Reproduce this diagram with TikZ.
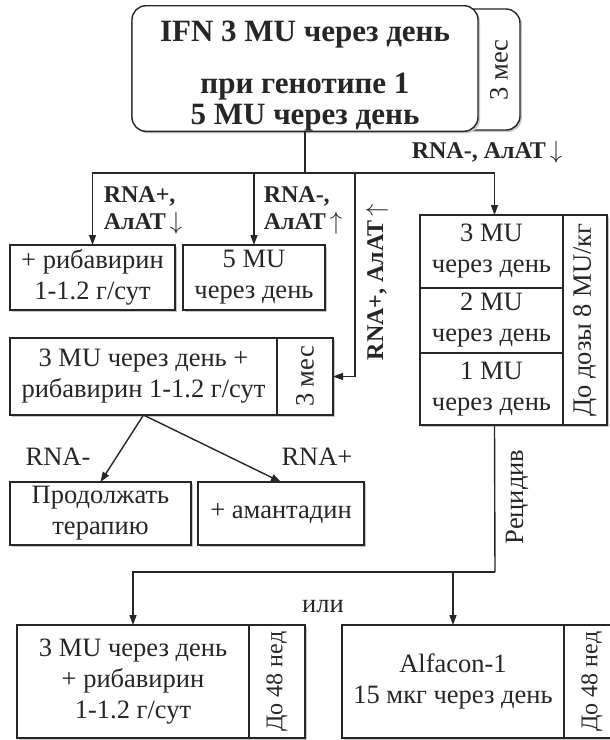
\documentclass[tikz,border=0pt]{standalone}
\usepackage{fontspec}
\setmainfont{Liberation Serif}
\usetikzlibrary{positioning}
\usetikzlibrary{arrows.meta,shadows}

\begin{document}
\begin{tikzpicture}[x=1pt, y=-1pt, line width=1.4pt, color=black!85, font=\fontsize{26.5}{31}\selectfont,
    box/.style={draw, fill=white, inner sep=0pt, outer sep=0pt, align=center,
        general shadow={fill=black!22, shadow xshift=2pt, shadow yshift=-2pt}},
    lbl/.style={font=\bfseries\fontsize{24}{27}\selectfont, align=left},
    arr/.style={-{Triangle[length=10pt,width=7pt]}}]

\useasboundingbox (0,0) rectangle (610,740);

% Start of therapy
\node[box, rounded corners=14pt, minimum width=388pt, minimum height=121pt] (startback) at (326,69.5) {};
\node[box, rounded corners=14pt, minimum width=346pt, minimum height=119pt,
    font=\bfseries\fontsize{31}{31}\selectfont] (start) at (305,68.5)
    {\rule{0pt}{36pt}IFN 3 MU через день\\[21pt]при генотипе 1\\5 MU через день};
\node (starttime) at (499,70) {\rotatebox{90}{3 мес}};

% First responses
\node[box, minimum width=165pt, minimum height=65pt] (riba) at (92.5,277.5) {+ рибавирин\\1-1.2 г/сут};
\node[box, minimum width=142pt, minimum height=65pt] (five) at (254,277.5) {5 MU\\через день};

\node[box, minimum width=267pt, minimum height=77pt] (combo) at (143.5,376.5) {3 MU через день +\\рибавирин 1-1.2 г/сут};
\node[box, minimum width=56pt, minimum height=77pt, right=0pt of combo] (combotime) {\rotatebox{90}{3 мес}};

% Dose reduction
\node[box, minimum width=143pt, minimum height=73pt] (dose3) at (491.5,251.5) {3 MU\\через день};
\node[box, minimum width=143pt, minimum height=65pt, below=0pt of dose3] (dose2) {2 MU\\через день};
\node[box, minimum width=143pt, minimum height=72pt, below=0pt of dose2] (dose1) {1 MU\\через день};
\node[box, minimum width=44pt, minimum height=210pt, anchor=north west] (dosetime) at (dose3.north east)
    {\rotatebox{90}{До дозы 8 MU/кг}};

% After the combination
\node[box, minimum width=181pt, minimum height=63pt] (cont) at (100.5,513.5) {Продолжать\\терапию};
\node[box, minimum width=166pt, minimum height=63pt] (amant) at (281,513.5) {+ амантадин};

% Relapse
\node[box, minimum width=232pt, minimum height=113pt] (relriba) at (133,681.5) {3 MU через день\\+ рибавирин\\1-1.2 г/сут};
\node[box, minimum width=56pt, minimum height=113pt, right=0pt of relriba, font=\fontsize{24}{28}\selectfont]
    (relribatime) {\rotatebox{90}{До 48 нед}};
\node[box, minimum width=222pt, minimum height=113pt] (alfa) at (453,681.5) {Alfacon-1\\15 мкг через день};
\node[box, minimum width=56pt, minimum height=113pt, right=0pt of alfa, font=\fontsize{24}{28}\selectfont]
    (alfatime) {\rotatebox{90}{До 48 нед}};

% Labels
\node[lbl] (ribalbl) at (143,210) {RNA+,\\АлАТ\,$\downarrow$};
\node[lbl] (fivelbl) at (303,210) {RNA-,\\АлАТ\,$\uparrow$};
\node[lbl] (doselbl) at (487,152) {RNA-, АлАТ\,$\downarrow$};
\node[lbl, rotate=90] (combolbl) at (377,282) {RNA+, АлАТ\,$\uparrow$};
\node (contlbl) at (58,457) {RNA-};
\node (amantlbl) at (317,457) {RNA+};
\node[rotate=90] (relapse) at (517,497) {Рецидив};
\node (orlbl) at (323,607) {или};

% Connections from the start
\coordinate (split) at (305,173);
\coordinate (bend) at (355,376.5);
\draw (start) -- (split);
\draw[arr] (split) -| (riba.north);
\draw[arr] (split) -| (five.north);
\draw[arr] (split) -| ([xshift=3pt]dose3.north);
\draw[arr] (split) -| (bend) -- (combotime.east);

% Connections from the combination
\draw[arr] (combo.south) -- (cont.north);
\draw[arr] (combo.south) -- (amant.north);

% Connections after relapse
\coordinate (join) at (495,572);
\draw ([xshift=3pt]dose1.south) -- (join);
\draw[arr] (join) -| (relriba.north);
\draw[arr] (join) -| (alfa.north);

\end{tikzpicture}
\end{document}
